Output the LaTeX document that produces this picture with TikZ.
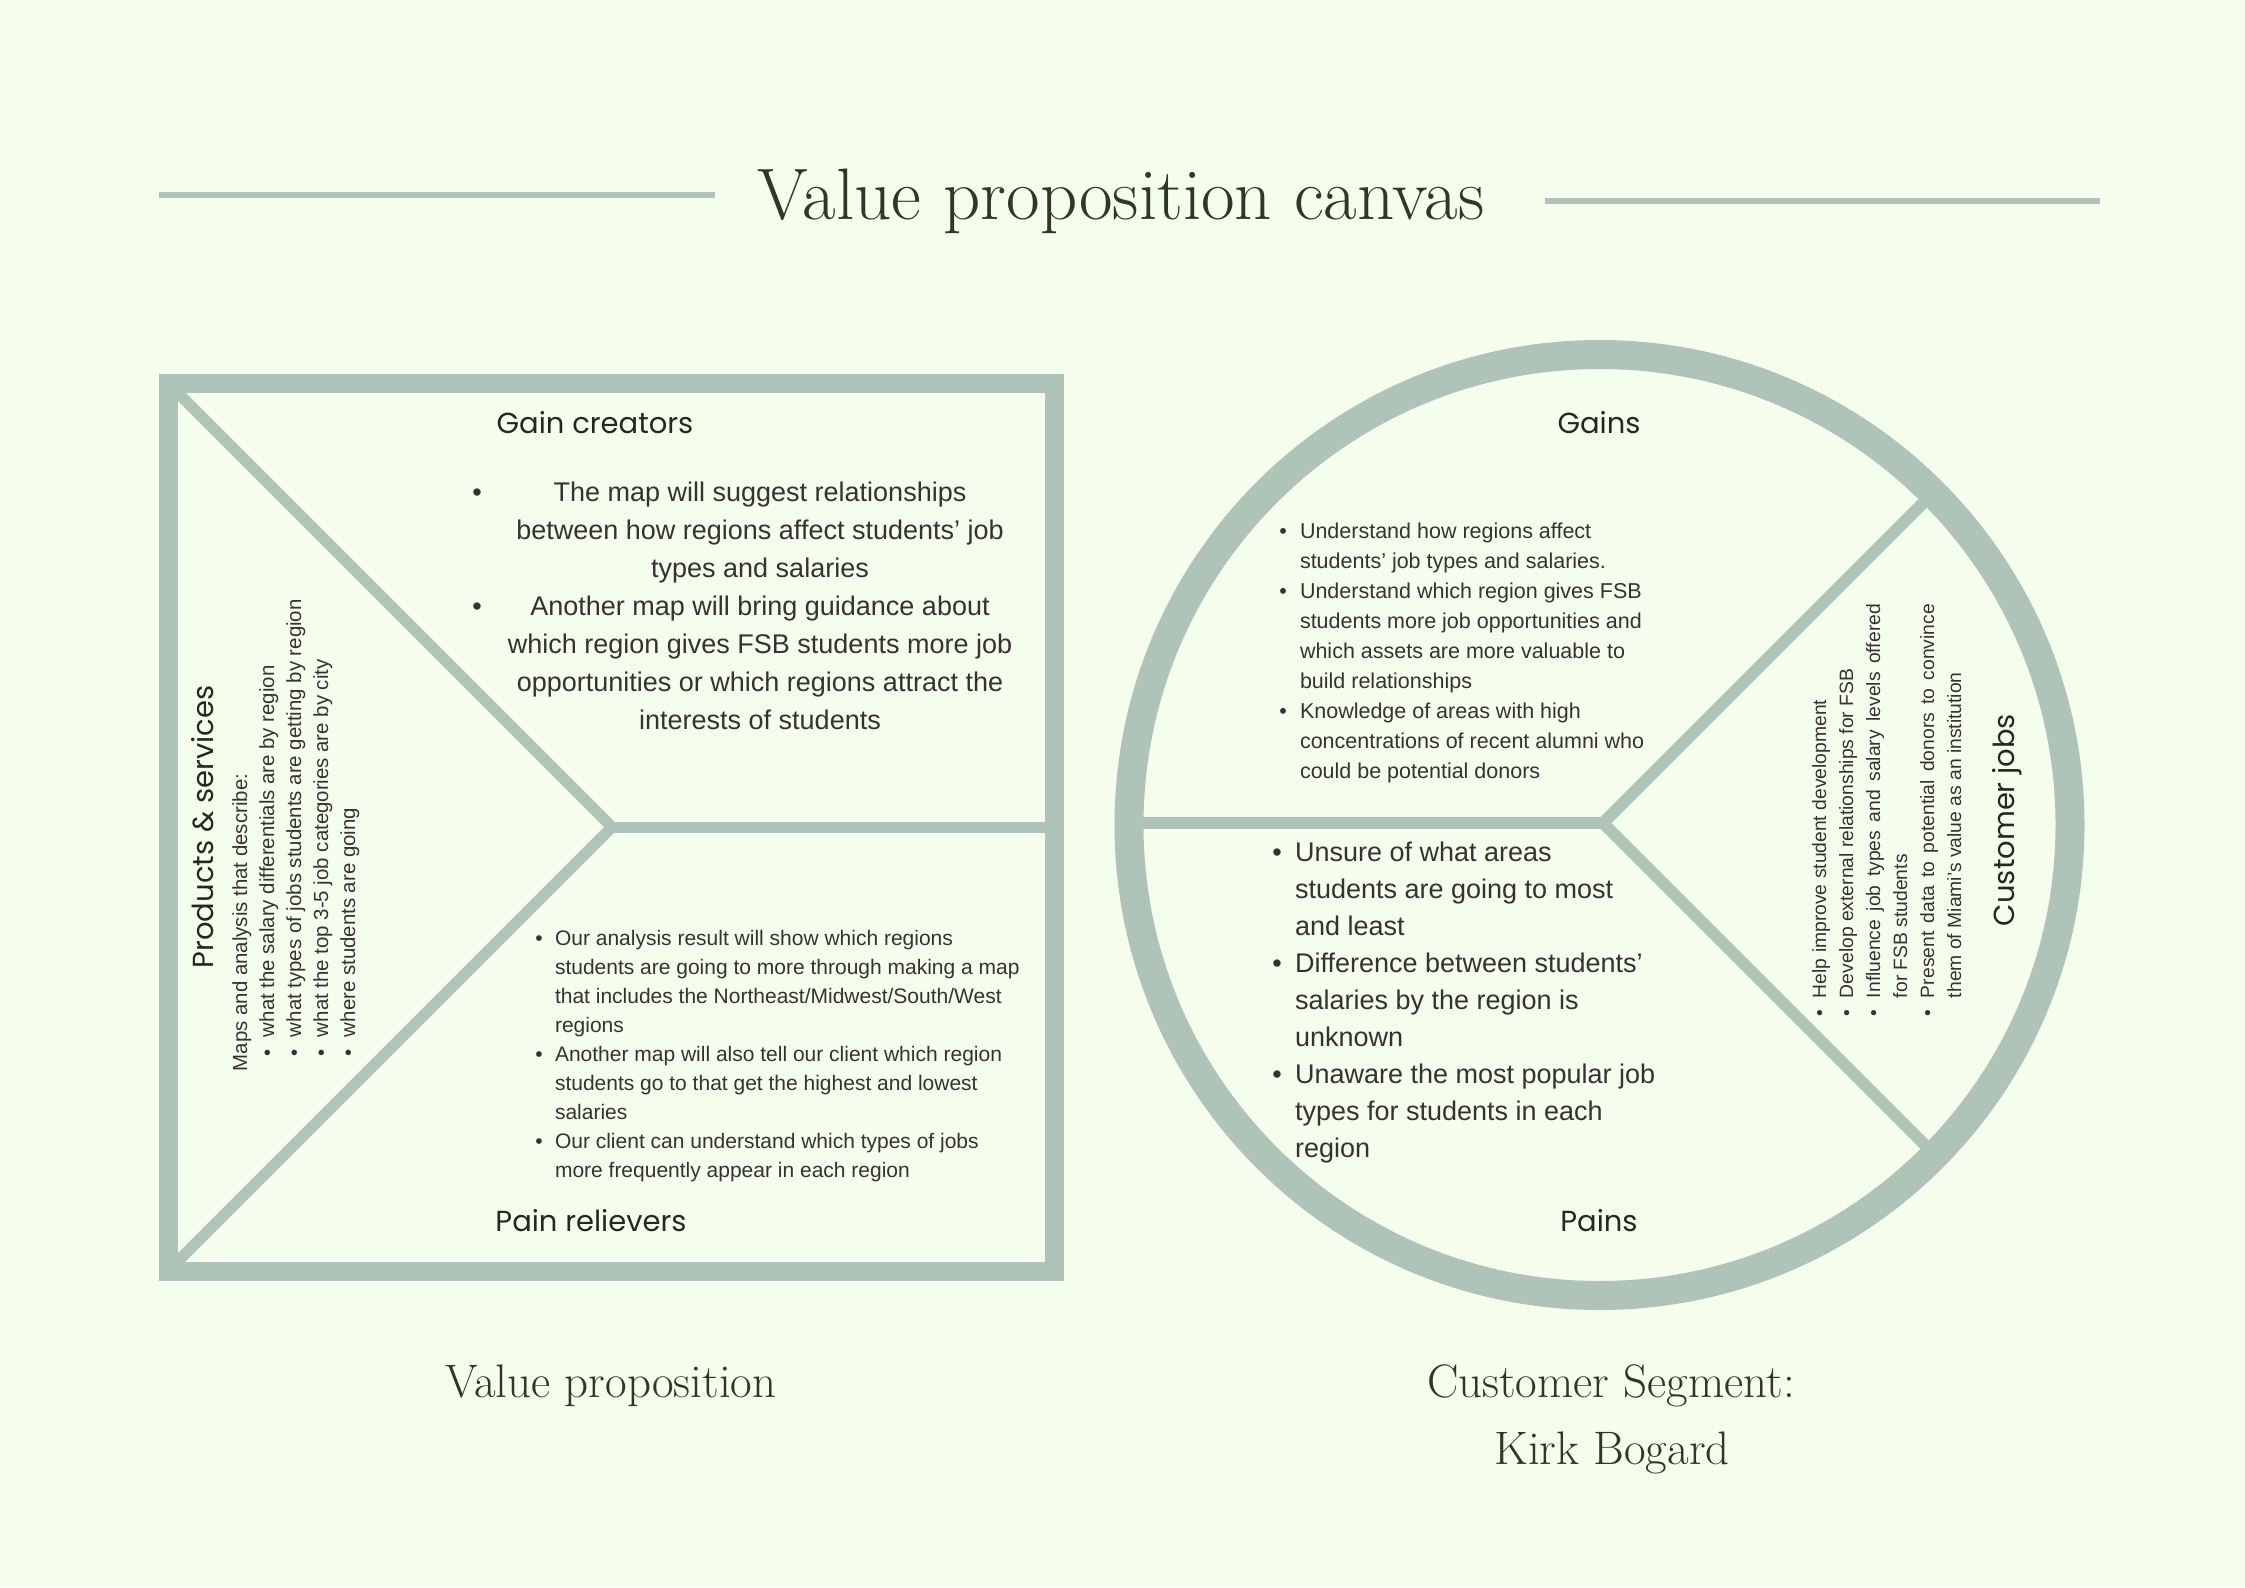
\documentclass[tikz,border=0pt]{standalone}
\usepackage{fontspec}
\newfontfamily\arialf{Liberation Sans}
\newfontfamily\popf{Poppins}
\definecolor{bg}{RGB}{245,253,236}
\definecolor{framec}{RGB}{176,195,185}
\definecolor{ink}{RGB}{44,56,40}
\definecolor{bodyc}{RGB}{51,51,51}
\tikzset{
  every node/.style={inner sep=0pt, outer sep=0pt},
  txt/.style={anchor=base west, text=bodyc, font=\arialf\fontsize{#1}{#1}\selectfont},
  ctxt/.style={anchor=base, text=bodyc, font=\arialf\fontsize{#1}{#1}\selectfont},
  bul/.style={anchor=base, text=bodyc, font=\arialf\fontsize{#1}{#1}\selectfont},
  lab/.style={anchor=base, text=ink!75!black, font=\popf\fontsize{#1}{#1}\selectfont},
  ttl/.style={anchor=base, text=ink, font=\fontsize{#1}{#1}\selectfont},
  band/.style={draw=framec, line width=#1},
}
\begin{document}
\begin{tikzpicture}[x=1pt,y=-1pt]
\fill[bg] (0,0) rectangle (2245,1587);
\useasboundingbox (0,0) rectangle (2245,1587);

% title
\draw[band=6] (159,195) -- (715,195);
\draw[band=6] (1545,201) -- (2100,201);
\node[ttl=73] (title) at (1121,219) {Value proposition canvas};

% value proposition square
\coordinate (vv) at (612,827);
\draw[band=11, line join=miter] (168.5,383.5) -- (vv) -- (168.5,1270.5);
\draw[band=11] (vv) -- (1054.5,827);
\draw[band=19] (168.5,383.5) rectangle (1054.5,1271.5);

\node[lab=29] (gc) at (595,433) {Gain creators};
\node[lab=29] (pr) at (591,1231) {Pain relievers};
\node[lab=29, rotate=90] (ps) at (213,827) {Products \& services};

\foreach \t [count=\i from 0] in {
  {The map will suggest relationships},
  {between how regions affect students’ job},
  {types and salaries},
  {Another map will bring guidance about},
  {which region gives FSB students more job},
  {opportunities or which regions attract the},
  {interests of students}}
  \node[ctxt=27] (gcl\i) at (760,501+38.1*\i) {\t};
\node[bul=27] (gcb1) at (477,501) {•};
\node[bul=27] (gcb2) at (477,615.3) {•};

\foreach \t [count=\i from 0] in {
  {Our analysis result will show which regions},
  {students are going to more through making a map},
  {that includes the Northeast/Midwest/South/West},
  {regions},
  {Another map will also tell our client which region},
  {students go to that get the highest and lowest},
  {salaries},
  {Our client can understand which types of jobs},
  {more frequently appear in each region}}
  \node[txt=21] (prl\i) at (555,945+29*\i) {\t};
\foreach \k in {0,4,7}
  \node[bul=21] (prb\k) at (539,945+29*\k) {•};

\node[txt=20.4, rotate=90] (psl0) at (247,1071) {Maps and analysis that describe:};
\foreach \t [count=\i from 1] in {
  {what the salary differentials are by region},
  {what types of jobs students are getting by region},
  {what the top 3-5 job categories are by city},
  {where students are going}}
{
  \node[txt=20.4, rotate=90] (psl\i) at (247+27*\i,1037) {\t};
  \node[bul=20.4, rotate=90] (psb\i) at (247+27*\i,1053) {•};
}

% customer circle
\coordinate (cc) at (1599.5,825);
\coordinate (cv) at (1603,823);
\draw[band=12] (1128,823) -- (cv);
\draw[band=12] (cv) -- ++(330,-330);
\draw[band=12] (cv) -- ++(330,330);
\draw[band=29] (cc) circle[radius=470.5];

\node[lab=29] (gn) at (1599,433.5) {Gains};
\node[lab=29] (pn) at (1599,1231) {Pains};
\node[lab=29, rotate=90] (cj) at (2014,820) {Customer jobs};

\foreach \t [count=\i from 0] in {
  {Understand how regions affect},
  {students’ job types and salaries.},
  {Understand which region gives FSB},
  {students more job opportunities and},
  {which assets are more valuable to},
  {build relationships},
  {Knowledge of areas with high},
  {concentrations of recent alumni who},
  {could be potential donors}}
  \node[txt=21.5] (gnl\i) at (1300,538+30.1*\i) {\t};
\foreach \k in {0,2,6}
  \node[bul=21.5] (gnb\k) at (1283,538+30.1*\k) {•};

\foreach \t [count=\i from 0] in {
  {Unsure of what areas},
  {students are going to most},
  {and least},
  {Difference between students’},
  {salaries by the region is},
  {unknown},
  {Unaware the most popular job},
  {types for students in each},
  {region}}
  \node[txt=27] (pnl\i) at (1295,861+37.05*\i) {\t};
\foreach \k in {0,3,6}
  \node[bul=27] (pnb\k) at (1277,861+37.05*\k) {•};

\node[txt=19.3, rotate=90] (cjl0) at (1826,998) {Help improve student development};
\node[txt=19.3, rotate=90] (cjl1) at (1853,998) {Develop external relationships for FSB};
\node[txt=19.3, rotate=90] (cjl2) at (1880,998) {\makebox[394pt][s]{Influence job types and salary levels offered}};
\node[txt=19.3, rotate=90] (cjl3) at (1907,998) {for FSB students};
\node[txt=19.3, rotate=90] (cjl4) at (1934,998) {\makebox[394pt][s]{Present data to potential donors to convince}};
\node[txt=19.3, rotate=90] (cjl5) at (1961,998) {them of Miami’s value as an institution};
\foreach \k in {0,1,2,4}
  \node[bul=19.3, rotate=90] (cjb\k) at (1826+27*\k,1013) {•};

% bottom captions
\node[ttl=47] (vp) at (611,1397) {Value proposition};
\node[ttl=47] (cs) at (1611,1397) {Customer Segment:};
\node[ttl=47] (kb) at (1612,1464) {Kirk Bogard};
\end{tikzpicture}
\end{document}
